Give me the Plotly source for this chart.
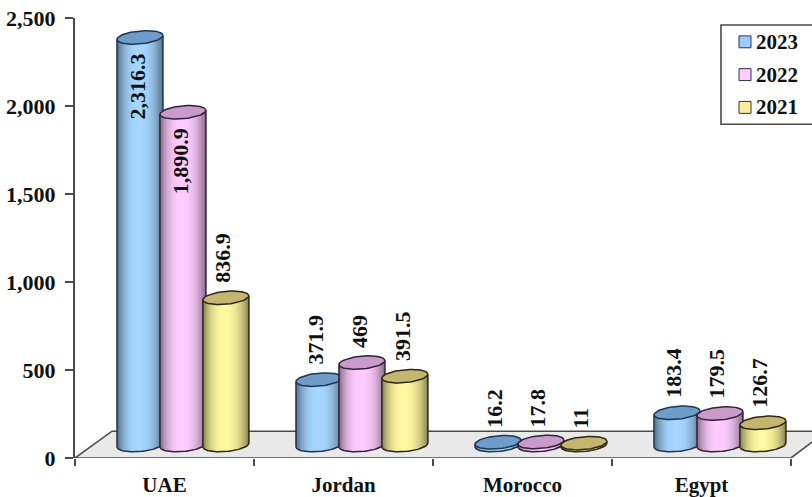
import math
import plotly.graph_objects as go

# Chart data
categories = ["UAE", "Jordan", "Morocco", "Egypt"]
series_names = ["2023", "2022", "2021"]
values_2023 = [2316.3, 371.9, 16.2, 183.4]
values_2022 = [1890.9, 469, 17.8, 179.5]
values_2021 = [836.9, 391.5, 11, 126.7]
value_labels_2023 = ["2,316.3", "371.9", "16.2", "183.4"]
value_labels_2022 = ["1,890.9", "469", "17.8", "179.5"]
value_labels_2021 = ["836.9", "391.5", "11", "126.7"]
y_ticks = [0, 500, 1000, 1500, 2000, 2500]

series_values = [values_2023, values_2022, values_2021]
series_labels = [value_labels_2023, value_labels_2022, value_labels_2021]
body_colors = [(166, 214, 255), (255, 204, 255), (255, 248, 160)]
cap_colors = ["#6f9cc8", "#c99bcb", "#c4b670"]
swatch_colors = ["#99ccff", "#ffccff", "#ffee99"]
outline_colors = ["#1f3550", "#33203a", "#2a2810"]

# Pseudo-3D geometry, in axis units
WIDTH, HEIGHT = 812, 497
M_L, M_R, M_T, M_B = 75, 0, 18, 36
CATEGORY_SPAN_PX = 179
X_MAX = (WIDTH - M_L - M_R) / CATEGORY_SPAN_PX
UNITS_PER_PX_Y = 2500 / (HEIGHT - M_T - M_B)
UNITS_PER_PX_X = 1 / CATEGORY_SPAN_PX
FLOOR_RISE = 13 * UNITS_PER_PX_Y
FLOOR_BACK = 27 * UNITS_PER_PX_Y
FLOOR_INSET = 37 * UNITS_PER_PX_X
FIRST_OFFSET = 0.363
STEP = 0.24
HALF_W = 23 * UNITS_PER_PX_X
TILT = 2 * UNITS_PER_PX_Y
MINOR = 6.5 * UNITS_PER_PX_Y
SHADE_LEVELS = 14
SHADE_PEAK = -0.05

fig = go.Figure()


def add_poly(xs, ys, fill=None, line=None, line_width=0):
    fig.add_trace(go.Scatter(
        x=xs, y=ys, mode="lines", showlegend=False, hoverinfo="skip", cliponaxis=False,
        fill="toself" if fill else "none", fillcolor=fill,
        line=dict(color=line or "rgba(0,0,0,0)", width=line_width),
    ))


def lower_edge(u, center):
    return center + TILT * u - MINOR * math.sqrt(max(0.0, 1 - u * u))


def cylinder(cx, value, body, cap, outline):
    base = FLOOR_RISE
    top = base + value
    steps = 40
    # Nested shading bands, darkest at the outside and lightest around the peak
    for k in range(SHADE_LEVELS + 1):
        f = 1 - k / SHADE_LEVELS
        lo = SHADE_PEAK - (SHADE_PEAK + 1) * f
        hi = SHADE_PEAK + (1 - SHADE_PEAK) * f
        shade = 1 - 0.45 * f ** 2.5
        color = "rgb({},{},{})".format(*[round(c * shade) for c in body])
        us = [lo + (hi - lo) * i / steps for i in range(steps + 1)]
        xs = [cx + HALF_W * u for u in us] + [cx + HALF_W * hi, cx + HALF_W * lo]
        ys = [lower_edge(u, base) for u in us] + [top + TILT * hi, top + TILT * lo]
        add_poly(xs, ys, fill=color)
    # Silhouette of the side wall
    us = [-1 + 2 * i / steps for i in range(steps + 1)]
    xs = [cx - HALF_W] + [cx + HALF_W * u for u in us] + [cx + HALF_W]
    ys = [top - TILT] + [lower_edge(u, base) for u in us] + [top + TILT]
    add_poly(xs, ys, line=outline, line_width=1.5)
    # Top cap
    ts = [2 * math.pi * i / 60 for i in range(61)]
    xs = [cx + HALF_W * math.cos(t) for t in ts]
    ys = [top + TILT * math.cos(t) + MINOR * math.sin(t) for t in ts]
    add_poly(xs, ys, fill=cap, line=outline, line_width=1.5)


# Floor of the chart
add_poly(
    [0, FLOOR_INSET, X_MAX + 0.1, X_MAX + 0.1, 4, 0],
    [0, FLOOR_BACK, FLOOR_BACK, FLOOR_BACK, 0, 0],
    fill="#e9e9e9",
)
add_poly([0, 4, X_MAX, None, 0, FLOOR_INSET, X_MAX + 0.1],
         [0, 0, 16 * UNITS_PER_PX_Y, None, 0, FLOOR_BACK, FLOOR_BACK],
         line="#4a4a4a", line_width=1.6)

# Cylinders, painted left to right so each overlaps its left neighbour
for c in range(len(categories)):
    for s in range(len(series_names)):
        cylinder(c + FIRST_OFFSET + STEP * s, series_values[s][c],
                 body_colors[s], cap_colors[s], outline_colors[s])

annotations = []
shapes = []
label_font = dict(family="Liberation Serif", size=22, color="#111111")
legend_font = dict(family="Liberation Serif", size=21, color="#111111")

# Rotated value labels: inside the two tallest columns, above all the others
for c in range(len(categories)):
    for s in range(len(series_names)):
        value = series_values[s][c]
        inside = value > 1000
        annotations.append(dict(
            x=c + FIRST_OFFSET + STEP * s, y=value + FLOOR_RISE,
            text="<b>" + series_labels[s][c] + "</b>", showarrow=False, textangle=-90,
            xanchor="center", yanchor="top" if inside else "bottom",
            xshift=-3, yshift=-15 if inside else 14,
            font=label_font, borderpad=0,
        ))

# Legend panel
paper_x = lambda px: (px - M_L) / (WIDTH - M_L - M_R)
paper_y = lambda py: (HEIGHT - M_B - py) / (HEIGHT - M_T - M_B)
shapes.append(dict(type="rect", xref="paper", yref="paper", layer="above",
                   x0=paper_x(721), x1=paper_x(830), y0=paper_y(125), y1=paper_y(25),
                   fillcolor="white", line=dict(color="#4a4a4a", width=1.6)))
for s, name in enumerate(series_names):
    cy = 42 + 33 * s
    shapes.append(dict(type="rect", xref="paper", yref="paper", layer="above",
                       x0=paper_x(739), x1=paper_x(751), y0=paper_y(cy + 6), y1=paper_y(cy - 6),
                       fillcolor=swatch_colors[s], line=dict(color="#333344", width=1)))
    annotations.append(dict(
        xref="paper", yref="paper", x=paper_x(754), y=paper_y(cy),
        text="<b>" + name + "</b>", showarrow=False, xanchor="left", yanchor="middle",
        font=legend_font,
    ))

fig.update_layout(
    width=WIDTH, height=HEIGHT, autosize=False,
    margin=dict(l=M_L, r=M_R, t=M_T, b=M_B),
    paper_bgcolor="white", plot_bgcolor="white", showlegend=False,
    annotations=annotations, shapes=shapes,
    font=dict(family="Liberation Serif", size=21, color="#111111"),
)
fig.update_xaxes(
    range=[0, X_MAX], showgrid=False, zeroline=False, showline=False,
    tickmode="array", tickvals=[i + 0.5 for i in range(len(categories))],
    ticktext=["<b>" + c + "</b>" for c in categories], ticks="", ticklabelstandoff=12,
    tickfont=dict(size=21),
    minor=dict(tickmode="array", tickvals=list(range(len(categories) + 1)),
               ticks="outside", ticklen=7, tickwidth=1.6, tickcolor="#4a4a4a", showgrid=False),
)
fig.update_yaxes(
    range=[0, 2500], showgrid=False, zeroline=False, showline=True,
    linecolor="#4a4a4a", linewidth=2, ticks="outside", ticklen=8, tickwidth=1.6,
    tickcolor="#4a4a4a", tickmode="array", tickvals=y_ticks,
    ticktext=["<b>{:,}</b>".format(v) for v in y_ticks], ticklabelstandoff=5,
    tickfont=dict(size=22),
)

fig.write_html("out.html")
